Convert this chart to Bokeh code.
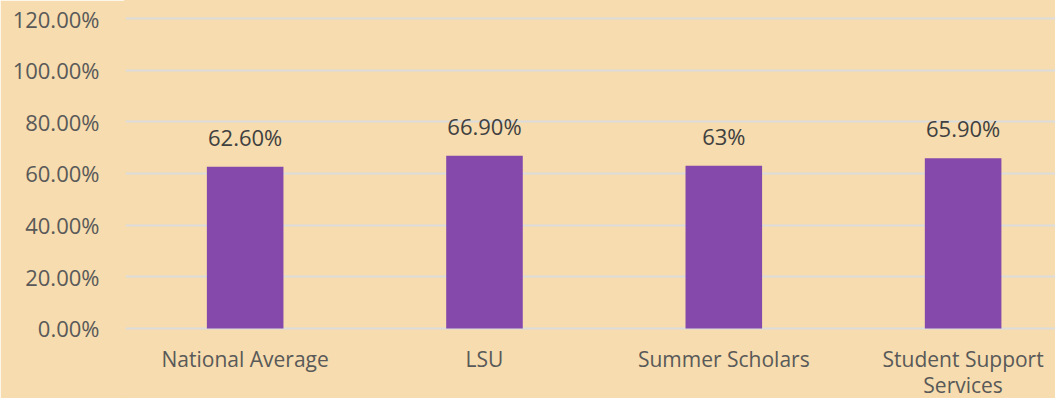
from bokeh.plotting import figure
from bokeh.models import Range1d, FixedTicker, NumeralTickFormatter, ColumnDataSource
from bokeh.core.properties import value
from bokeh.embed import file_html
from bokeh.resources import INLINE

categories = ["National Average", "LSU", "Summer Scholars", "Student Support\nServices"]
rates = [0.626, 0.669, 0.63, 0.659]
rate_labels = ["62.60%", "66.90%", "63%", "65.90%"]
y_ticks = [0.0, 0.2, 0.4, 0.6, 0.8, 1.0, 1.2]

BG = "#F6DCAE"
FONT = "Open Sans"
TXT = "#595959"

positions = [i + 0.5 for i in range(len(categories))]
src = ColumnDataSource(dict(x=positions, top=rates, label=rate_labels,
                            cat=categories, base=[0.0] * len(categories)))

p = figure(width=1055, height=398, output_backend="svg", toolbar_location=None,
           x_range=Range1d(0, 3.886), y_range=Range1d(-0.271, 1.2697),
           min_border_left=125, min_border_right=0, min_border_top=0, min_border_bottom=0)
p.background_fill_color = BG
p.border_fill_color = BG
p.outline_line_color = BG
p.outline_line_width = 3

p.vbar(x="x", top="top", bottom=0, width=0.32, source=src, color="#8549AC", line_color=None)
p.text(x="x", y="top", text="label", source=src, text_align="center", text_baseline="alphabetic",
       y_offset=-30, text_font=value(FONT), text_font_size="22px", text_color="#404040")
p.text(x="x", y="base", text="cat", source=src, text_align="center", text_baseline="top",
       y_offset=17, text_line_height=0.92, text_font=value(FONT), text_font_size="21px",
       text_color=TXT)

p.xaxis.visible = False
p.xgrid.visible = False
p.ygrid.ticker = FixedTicker(ticks=y_ticks)
p.ygrid.grid_line_color = "#DCDCDC"
p.ygrid.grid_line_width = 2

p.yaxis.ticker = FixedTicker(ticks=y_ticks)
p.yaxis.formatter = NumeralTickFormatter(format="0.00%")
p.yaxis.axis_line_color = None
p.yaxis.major_tick_line_color = None
p.yaxis.minor_tick_line_color = None
p.yaxis.major_label_text_font = FONT
p.yaxis.major_label_text_color = TXT
p.yaxis.major_label_text_font_size = "22px"
p.yaxis.major_label_standoff = 20

open("out.html", "w").write(file_html(p, INLINE))
